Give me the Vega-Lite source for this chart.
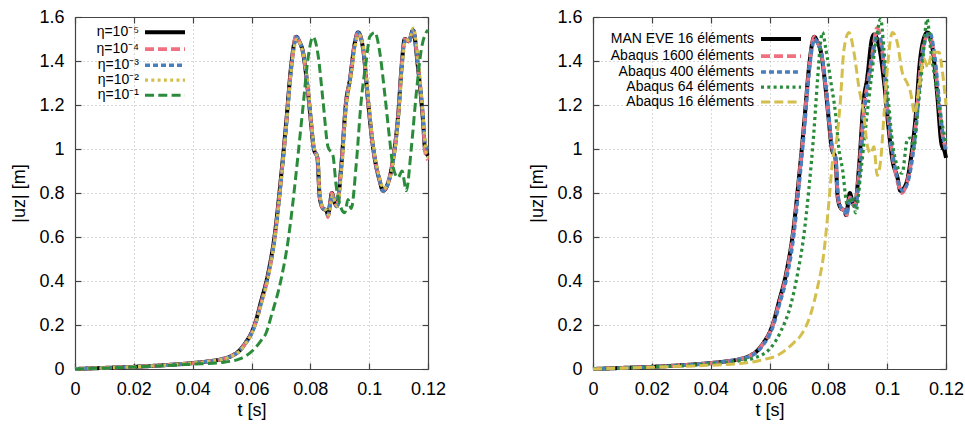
{
  "$schema": "https://vega.github.io/schema/vega-lite/v6.json",
  "padding": {"left": 10, "top": 8, "right": 5, "bottom": 5},
  "background": "white",
  "spacing": 82,
  "config": {
    "view": {"stroke": null},
    "font": "Liberation Sans",
    "axis": {
      "labelFont": "Liberation Sans", "labelFontSize": 18, "labelColor": "#000",
      "titleFont": "Liberation Sans", "titleFontSize": 18, "titleFontWeight": "normal", "titleColor": "#000",
      "domainColor": "#444", "domainWidth": 1.2, "tickColor": "#444", "tickWidth": 1.2, "tickSize": -6,
      "labelFlush": false, "labelOverlap": false, "labelPadding": 17,
      "gridColor": "#b4b4b4", "gridDash": [1, 3], "gridWidth": 1
    },
    "legend": {
      "title": null, "orient": "none", "padding": 0, "rowPadding": 1,
      "labelFont": "Liberation Sans", "labelFontSize": 14, "labelColor": "#000",
      "labelAlign": "right", "labelLimit": 0, "symbolSize": 100, "symbolType": "M-4,0H4"
    }
  },
  "datasets": {
    "L": [
      {"s":"η=10⁻⁵","t":0,"u":0},{"s":"η=10⁻⁵","t":0.01,"u":0.005},{"s":"η=10⁻⁵","t":0.02,"u":0.01},{"s":"η=10⁻⁵","t":0.03,"u":0.017},{"s":"η=10⁻⁵","t":0.04,"u":0.027},{"s":"η=10⁻⁵","t":0.045,"u":0.034},{"s":"η=10⁻⁵","t":0.05,"u":0.045},{"s":"η=10⁻⁵","t":0.053,"u":0.058},{"s":"η=10⁻⁵","t":0.056,"u":0.085},{"s":"η=10⁻⁵","t":0.058,"u":0.12},{"s":"η=10⁻⁵","t":0.06,"u":0.165},{"s":"η=10⁻⁵","t":0.0615,"u":0.22},{"s":"η=10⁻⁵","t":0.0633,"u":0.31},{"s":"η=10⁻⁵","t":0.0656,"u":0.43},{"s":"η=10⁻⁵","t":0.0679,"u":0.61},{"s":"η=10⁻⁵","t":0.0701,"u":0.88},{"s":"η=10⁻⁵","t":0.0718,"u":1.12},{"s":"η=10⁻⁵","t":0.0735,"u":1.38},{"s":"η=10⁻⁵","t":0.0745,"u":1.48},{"s":"η=10⁻⁵","t":0.0752,"u":1.51},{"s":"η=10⁻⁵","t":0.0762,"u":1.49},{"s":"η=10⁻⁵","t":0.0775,"u":1.44},{"s":"η=10⁻⁵","t":0.0792,"u":1.26},{"s":"η=10⁻⁵","t":0.0803,"u":1.11},{"s":"η=10⁻⁵","t":0.0812,"u":1.0},{"s":"η=10⁻⁵","t":0.0824,"u":0.96},{"s":"η=10⁻⁵","t":0.0832,"u":0.78},{"s":"η=10⁻⁵","t":0.0843,"u":0.73},{"s":"η=10⁻⁵","t":0.0855,"u":0.72},{"s":"η=10⁻⁵","t":0.086,"u":0.7},{"s":"η=10⁻⁵","t":0.0868,"u":0.76},{"s":"η=10⁻⁵","t":0.0873,"u":0.8},{"s":"η=10⁻⁵","t":0.0882,"u":0.76},{"s":"η=10⁻⁵","t":0.089,"u":0.74},{"s":"η=10⁻⁵","t":0.0905,"u":0.92},{"s":"η=10⁻⁵","t":0.0922,"u":1.22},{"s":"η=10⁻⁵","t":0.0934,"u":1.31},{"s":"η=10⁻⁵","t":0.0951,"u":1.48},{"s":"η=10⁻⁵","t":0.0962,"u":1.53},{"s":"η=10⁻⁵","t":0.098,"u":1.45},{"s":"η=10⁻⁵","t":0.0996,"u":1.22},{"s":"η=10⁻⁵","t":0.1013,"u":1.01},{"s":"η=10⁻⁵","t":0.1024,"u":0.92},{"s":"η=10⁻⁵","t":0.1035,"u":0.86},{"s":"η=10⁻⁵","t":0.1047,"u":0.81},{"s":"η=10⁻⁵","t":0.1064,"u":0.845},{"s":"η=10⁻⁵","t":0.1081,"u":0.95},{"s":"η=10⁻⁵","t":0.1099,"u":1.16},{"s":"η=10⁻⁵","t":0.111,"u":1.37},{"s":"η=10⁻⁵","t":0.1121,"u":1.5},{"s":"η=10⁻⁵","t":0.1135,"u":1.49},{"s":"η=10⁻⁵","t":0.1149,"u":1.54},{"s":"η=10⁻⁵","t":0.1166,"u":1.37},{"s":"η=10⁻⁵","t":0.1183,"u":1.13},{"s":"η=10⁻⁵","t":0.119,"u":1.0},{"s":"η=10⁻⁵","t":0.12,"u":0.97},

      {"s":"η=10⁻⁴","t":0,"u":0},{"s":"η=10⁻⁴","t":0.01,"u":0.005},{"s":"η=10⁻⁴","t":0.02,"u":0.01},{"s":"η=10⁻⁴","t":0.03,"u":0.017},{"s":"η=10⁻⁴","t":0.04,"u":0.027},{"s":"η=10⁻⁴","t":0.045,"u":0.034},{"s":"η=10⁻⁴","t":0.05,"u":0.045},{"s":"η=10⁻⁴","t":0.053,"u":0.058},{"s":"η=10⁻⁴","t":0.056,"u":0.084},{"s":"η=10⁻⁴","t":0.058,"u":0.118},{"s":"η=10⁻⁴","t":0.06,"u":0.162},{"s":"η=10⁻⁴","t":0.0615,"u":0.215},{"s":"η=10⁻⁴","t":0.0633,"u":0.3},{"s":"η=10⁻⁴","t":0.0656,"u":0.42},{"s":"η=10⁻⁴","t":0.0679,"u":0.6},{"s":"η=10⁻⁴","t":0.0701,"u":0.87},{"s":"η=10⁻⁴","t":0.0718,"u":1.11},{"s":"η=10⁻⁴","t":0.0735,"u":1.37},{"s":"η=10⁻⁴","t":0.0745,"u":1.48},{"s":"η=10⁻⁴","t":0.0752,"u":1.52},{"s":"η=10⁻⁴","t":0.0762,"u":1.49},{"s":"η=10⁻⁴","t":0.0775,"u":1.44},{"s":"η=10⁻⁴","t":0.0792,"u":1.26},{"s":"η=10⁻⁴","t":0.0803,"u":1.11},{"s":"η=10⁻⁴","t":0.0812,"u":1.0},{"s":"η=10⁻⁴","t":0.0824,"u":0.96},{"s":"η=10⁻⁴","t":0.0832,"u":0.78},{"s":"η=10⁻⁴","t":0.0843,"u":0.73},{"s":"η=10⁻⁴","t":0.0855,"u":0.72},{"s":"η=10⁻⁴","t":0.086,"u":0.69},{"s":"η=10⁻⁴","t":0.0868,"u":0.76},{"s":"η=10⁻⁴","t":0.0873,"u":0.8},{"s":"η=10⁻⁴","t":0.0882,"u":0.76},{"s":"η=10⁻⁴","t":0.089,"u":0.74},{"s":"η=10⁻⁴","t":0.0905,"u":0.92},{"s":"η=10⁻⁴","t":0.0922,"u":1.22},{"s":"η=10⁻⁴","t":0.0934,"u":1.31},{"s":"η=10⁻⁴","t":0.0951,"u":1.48},{"s":"η=10⁻⁴","t":0.0962,"u":1.53},{"s":"η=10⁻⁴","t":0.098,"u":1.45},{"s":"η=10⁻⁴","t":0.0996,"u":1.22},{"s":"η=10⁻⁴","t":0.1013,"u":1.01},{"s":"η=10⁻⁴","t":0.1024,"u":0.92},{"s":"η=10⁻⁴","t":0.1035,"u":0.86},{"s":"η=10⁻⁴","t":0.1047,"u":0.81},{"s":"η=10⁻⁴","t":0.1064,"u":0.845},{"s":"η=10⁻⁴","t":0.1081,"u":0.95},{"s":"η=10⁻⁴","t":0.1099,"u":1.16},{"s":"η=10⁻⁴","t":0.111,"u":1.37},{"s":"η=10⁻⁴","t":0.1121,"u":1.5},{"s":"η=10⁻⁴","t":0.1135,"u":1.49},{"s":"η=10⁻⁴","t":0.1149,"u":1.53},{"s":"η=10⁻⁴","t":0.1166,"u":1.38},{"s":"η=10⁻⁴","t":0.1183,"u":1.14},{"s":"η=10⁻⁴","t":0.119,"u":0.99},{"s":"η=10⁻⁴","t":0.12,"u":0.95},

      {"s":"η=10⁻³","t":0,"u":0},{"s":"η=10⁻³","t":0.01,"u":0.005},{"s":"η=10⁻³","t":0.02,"u":0.01},{"s":"η=10⁻³","t":0.03,"u":0.017},{"s":"η=10⁻³","t":0.04,"u":0.027},{"s":"η=10⁻³","t":0.045,"u":0.034},{"s":"η=10⁻³","t":0.05,"u":0.045},{"s":"η=10⁻³","t":0.053,"u":0.057},{"s":"η=10⁻³","t":0.056,"u":0.083},{"s":"η=10⁻³","t":0.058,"u":0.116},{"s":"η=10⁻³","t":0.06,"u":0.16},{"s":"η=10⁻³","t":0.0615,"u":0.21},{"s":"η=10⁻³","t":0.0633,"u":0.3},{"s":"η=10⁻³","t":0.0656,"u":0.42},{"s":"η=10⁻³","t":0.0679,"u":0.59},{"s":"η=10⁻³","t":0.0701,"u":0.86},{"s":"η=10⁻³","t":0.0718,"u":1.1},{"s":"η=10⁻³","t":0.0735,"u":1.36},{"s":"η=10⁻³","t":0.0745,"u":1.47},{"s":"η=10⁻³","t":0.0752,"u":1.51},{"s":"η=10⁻³","t":0.0762,"u":1.49},{"s":"η=10⁻³","t":0.0775,"u":1.44},{"s":"η=10⁻³","t":0.0792,"u":1.27},{"s":"η=10⁻³","t":0.0803,"u":1.12},{"s":"η=10⁻³","t":0.0812,"u":1.0},{"s":"η=10⁻³","t":0.0824,"u":0.96},{"s":"η=10⁻³","t":0.0832,"u":0.79},{"s":"η=10⁻³","t":0.0843,"u":0.73},{"s":"η=10⁻³","t":0.0855,"u":0.72},{"s":"η=10⁻³","t":0.086,"u":0.7},{"s":"η=10⁻³","t":0.0868,"u":0.76},{"s":"η=10⁻³","t":0.0873,"u":0.79},{"s":"η=10⁻³","t":0.0882,"u":0.76},{"s":"η=10⁻³","t":0.089,"u":0.74},{"s":"η=10⁻³","t":0.0905,"u":0.91},{"s":"η=10⁻³","t":0.0922,"u":1.21},{"s":"η=10⁻³","t":0.0934,"u":1.31},{"s":"η=10⁻³","t":0.0951,"u":1.47},{"s":"η=10⁻³","t":0.0962,"u":1.53},{"s":"η=10⁻³","t":0.098,"u":1.45},{"s":"η=10⁻³","t":0.0996,"u":1.23},{"s":"η=10⁻³","t":0.1013,"u":1.02},{"s":"η=10⁻³","t":0.1024,"u":0.92},{"s":"η=10⁻³","t":0.1035,"u":0.86},{"s":"η=10⁻³","t":0.1047,"u":0.81},{"s":"η=10⁻³","t":0.1064,"u":0.84},{"s":"η=10⁻³","t":0.1081,"u":0.94},{"s":"η=10⁻³","t":0.1099,"u":1.15},{"s":"η=10⁻³","t":0.111,"u":1.36},{"s":"η=10⁻³","t":0.1121,"u":1.49},{"s":"η=10⁻³","t":0.1135,"u":1.49},{"s":"η=10⁻³","t":0.1149,"u":1.54},{"s":"η=10⁻³","t":0.1166,"u":1.38},{"s":"η=10⁻³","t":0.1183,"u":1.15},{"s":"η=10⁻³","t":0.119,"u":1.02},{"s":"η=10⁻³","t":0.12,"u":1.0},

      {"s":"η=10⁻²","t":0,"u":0},{"s":"η=10⁻²","t":0.01,"u":0.005},{"s":"η=10⁻²","t":0.02,"u":0.01},{"s":"η=10⁻²","t":0.03,"u":0.017},{"s":"η=10⁻²","t":0.04,"u":0.027},{"s":"η=10⁻²","t":0.045,"u":0.034},{"s":"η=10⁻²","t":0.05,"u":0.044},{"s":"η=10⁻²","t":0.053,"u":0.057},{"s":"η=10⁻²","t":0.056,"u":0.082},{"s":"η=10⁻²","t":0.058,"u":0.115},{"s":"η=10⁻²","t":0.06,"u":0.158},{"s":"η=10⁻²","t":0.0615,"u":0.21},{"s":"η=10⁻²","t":0.0633,"u":0.29},{"s":"η=10⁻²","t":0.0656,"u":0.41},{"s":"η=10⁻²","t":0.0679,"u":0.59},{"s":"η=10⁻²","t":0.0701,"u":0.86},{"s":"η=10⁻²","t":0.0718,"u":1.1},{"s":"η=10⁻²","t":0.0735,"u":1.36},{"s":"η=10⁻²","t":0.0745,"u":1.46},{"s":"η=10⁻²","t":0.0755,"u":1.5},{"s":"η=10⁻²","t":0.0765,"u":1.48},{"s":"η=10⁻²","t":0.0778,"u":1.42},{"s":"η=10⁻²","t":0.0795,"u":1.25},{"s":"η=10⁻²","t":0.0805,"u":1.1},{"s":"η=10⁻²","t":0.0814,"u":1.0},{"s":"η=10⁻²","t":0.0826,"u":0.95},{"s":"η=10⁻²","t":0.0834,"u":0.78},{"s":"η=10⁻²","t":0.0845,"u":0.73},{"s":"η=10⁻²","t":0.0857,"u":0.72},{"s":"η=10⁻²","t":0.0862,"u":0.7},{"s":"η=10⁻²","t":0.087,"u":0.75},{"s":"η=10⁻²","t":0.0875,"u":0.79},{"s":"η=10⁻²","t":0.0884,"u":0.76},{"s":"η=10⁻²","t":0.0892,"u":0.74},{"s":"η=10⁻²","t":0.0907,"u":0.91},{"s":"η=10⁻²","t":0.0924,"u":1.21},{"s":"η=10⁻²","t":0.0936,"u":1.3},{"s":"η=10⁻²","t":0.0953,"u":1.47},{"s":"η=10⁻²","t":0.0964,"u":1.52},{"s":"η=10⁻²","t":0.0982,"u":1.45},{"s":"η=10⁻²","t":0.0998,"u":1.22},{"s":"η=10⁻²","t":0.1015,"u":1.01},{"s":"η=10⁻²","t":0.1026,"u":0.92},{"s":"η=10⁻²","t":0.1037,"u":0.86},{"s":"η=10⁻²","t":0.1049,"u":0.82},{"s":"η=10⁻²","t":0.1066,"u":0.85},{"s":"η=10⁻²","t":0.1083,"u":0.95},{"s":"η=10⁻²","t":0.1101,"u":1.16},{"s":"η=10⁻²","t":0.1112,"u":1.37},{"s":"η=10⁻²","t":0.1123,"u":1.49},{"s":"η=10⁻²","t":0.1137,"u":1.5},{"s":"η=10⁻²","t":0.115,"u":1.55},{"s":"η=10⁻²","t":0.1168,"u":1.38},{"s":"η=10⁻²","t":0.1185,"u":1.12},{"s":"η=10⁻²","t":0.1192,"u":1.0},{"s":"η=10⁻²","t":0.12,"u":0.96},

      {"s":"η=10⁻¹","t":0,"u":0},{"s":"η=10⁻¹","t":0.02,"u":0.009},{"s":"η=10⁻¹","t":0.04,"u":0.022},{"s":"η=10⁻¹","t":0.05,"u":0.03},{"s":"η=10⁻¹","t":0.056,"u":0.046},{"s":"η=10⁻¹","t":0.0605,"u":0.085},{"s":"η=10⁻¹","t":0.0633,"u":0.13},{"s":"η=10⁻¹","t":0.065,"u":0.165},{"s":"η=10⁻¹","t":0.0667,"u":0.24},{"s":"η=10⁻¹","t":0.0701,"u":0.41},{"s":"η=10⁻¹","t":0.0724,"u":0.58},{"s":"η=10⁻¹","t":0.0741,"u":0.76},{"s":"η=10⁻¹","t":0.0758,"u":0.97},{"s":"η=10⁻¹","t":0.0775,"u":1.19},{"s":"η=10⁻¹","t":0.0792,"u":1.41},{"s":"η=10⁻¹","t":0.0809,"u":1.51},{"s":"η=10⁻¹","t":0.0826,"u":1.43},{"s":"η=10⁻¹","t":0.0843,"u":1.22},{"s":"η=10⁻¹","t":0.086,"u":1.01},{"s":"η=10⁻¹","t":0.0877,"u":0.97},{"s":"η=10⁻¹","t":0.0888,"u":0.83},{"s":"η=10⁻¹","t":0.09,"u":0.75},{"s":"η=10⁻¹","t":0.0917,"u":0.71},{"s":"η=10⁻¹","t":0.0928,"u":0.77},{"s":"η=10⁻¹","t":0.0939,"u":0.73},{"s":"η=10⁻¹","t":0.0956,"u":0.93},{"s":"η=10⁻¹","t":0.0973,"u":1.22},{"s":"η=10⁻¹","t":0.099,"u":1.4},{"s":"η=10⁻¹","t":0.1002,"u":1.51},{"s":"η=10⁻¹","t":0.1019,"u":1.53},{"s":"η=10⁻¹","t":0.1036,"u":1.44},{"s":"η=10⁻¹","t":0.1053,"u":1.25},{"s":"η=10⁻¹","t":0.107,"u":1.04},{"s":"η=10⁻¹","t":0.1081,"u":0.92},{"s":"η=10⁻¹","t":0.1098,"u":0.87},{"s":"η=10⁻¹","t":0.1112,"u":0.9},{"s":"η=10⁻¹","t":0.1126,"u":0.81},{"s":"η=10⁻¹","t":0.1143,"u":1.0},{"s":"η=10⁻¹","t":0.116,"u":1.25},{"s":"η=10⁻¹","t":0.1177,"u":1.45},{"s":"η=10⁻¹","t":0.1194,"u":1.53},{"s":"η=10⁻¹","t":0.12,"u":1.54}
    ],
    "R": [
      {"s":"MAN EVE 16 éléments","t":0,"u":0},{"s":"MAN EVE 16 éléments","t":0.01,"u":0.005},{"s":"MAN EVE 16 éléments","t":0.02,"u":0.01},{"s":"MAN EVE 16 éléments","t":0.03,"u":0.017},{"s":"MAN EVE 16 éléments","t":0.04,"u":0.027},{"s":"MAN EVE 16 éléments","t":0.045,"u":0.034},{"s":"MAN EVE 16 éléments","t":0.05,"u":0.045},{"s":"MAN EVE 16 éléments","t":0.053,"u":0.058},{"s":"MAN EVE 16 éléments","t":0.056,"u":0.085},{"s":"MAN EVE 16 éléments","t":0.058,"u":0.12},{"s":"MAN EVE 16 éléments","t":0.06,"u":0.165},{"s":"MAN EVE 16 éléments","t":0.0615,"u":0.22},{"s":"MAN EVE 16 éléments","t":0.0633,"u":0.31},{"s":"MAN EVE 16 éléments","t":0.0656,"u":0.43},{"s":"MAN EVE 16 éléments","t":0.0679,"u":0.61},{"s":"MAN EVE 16 éléments","t":0.0701,"u":0.88},{"s":"MAN EVE 16 éléments","t":0.0718,"u":1.12},{"s":"MAN EVE 16 éléments","t":0.0735,"u":1.38},{"s":"MAN EVE 16 éléments","t":0.0745,"u":1.48},{"s":"MAN EVE 16 éléments","t":0.0752,"u":1.51},{"s":"MAN EVE 16 éléments","t":0.0762,"u":1.49},{"s":"MAN EVE 16 éléments","t":0.0775,"u":1.44},{"s":"MAN EVE 16 éléments","t":0.0792,"u":1.26},{"s":"MAN EVE 16 éléments","t":0.0803,"u":1.11},{"s":"MAN EVE 16 éléments","t":0.0812,"u":1.0},{"s":"MAN EVE 16 éléments","t":0.0824,"u":0.96},{"s":"MAN EVE 16 éléments","t":0.0832,"u":0.78},{"s":"MAN EVE 16 éléments","t":0.0843,"u":0.73},{"s":"MAN EVE 16 éléments","t":0.0855,"u":0.72},{"s":"MAN EVE 16 éléments","t":0.086,"u":0.7},{"s":"MAN EVE 16 éléments","t":0.0868,"u":0.76},{"s":"MAN EVE 16 éléments","t":0.0873,"u":0.8},{"s":"MAN EVE 16 éléments","t":0.0882,"u":0.76},{"s":"MAN EVE 16 éléments","t":0.089,"u":0.74},{"s":"MAN EVE 16 éléments","t":0.0905,"u":0.93},{"s":"MAN EVE 16 éléments","t":0.092,"u":1.22},{"s":"MAN EVE 16 éléments","t":0.0932,"u":1.32},{"s":"MAN EVE 16 éléments","t":0.0948,"u":1.5},{"s":"MAN EVE 16 éléments","t":0.0955,"u":1.52},{"s":"MAN EVE 16 éléments","t":0.0972,"u":1.47},{"s":"MAN EVE 16 éléments","t":0.0989,"u":1.31},{"s":"MAN EVE 16 éléments","t":0.1006,"u":1.08},{"s":"MAN EVE 16 éléments","t":0.1018,"u":0.95},{"s":"MAN EVE 16 éléments","t":0.1035,"u":0.87},{"s":"MAN EVE 16 éléments","t":0.1045,"u":0.81},{"s":"MAN EVE 16 éléments","t":0.1064,"u":0.84},{"s":"MAN EVE 16 éléments","t":0.1081,"u":0.96},{"s":"MAN EVE 16 éléments","t":0.1099,"u":1.18},{"s":"MAN EVE 16 éléments","t":0.111,"u":1.38},{"s":"MAN EVE 16 éléments","t":0.1122,"u":1.49},{"s":"MAN EVE 16 éléments","t":0.1137,"u":1.53},{"s":"MAN EVE 16 éléments","t":0.1155,"u":1.45},{"s":"MAN EVE 16 éléments","t":0.117,"u":1.25},{"s":"MAN EVE 16 éléments","t":0.1185,"u":1.02},{"s":"MAN EVE 16 éléments","t":0.1195,"u":0.99},{"s":"MAN EVE 16 éléments","t":0.12,"u":0.96},

      {"s":"Abaqus 1600 éléments","t":0,"u":0},{"s":"Abaqus 1600 éléments","t":0.01,"u":0.005},{"s":"Abaqus 1600 éléments","t":0.02,"u":0.01},{"s":"Abaqus 1600 éléments","t":0.03,"u":0.017},{"s":"Abaqus 1600 éléments","t":0.04,"u":0.027},{"s":"Abaqus 1600 éléments","t":0.045,"u":0.034},{"s":"Abaqus 1600 éléments","t":0.05,"u":0.045},{"s":"Abaqus 1600 éléments","t":0.053,"u":0.058},{"s":"Abaqus 1600 éléments","t":0.056,"u":0.084},{"s":"Abaqus 1600 éléments","t":0.058,"u":0.118},{"s":"Abaqus 1600 éléments","t":0.06,"u":0.162},{"s":"Abaqus 1600 éléments","t":0.0615,"u":0.215},{"s":"Abaqus 1600 éléments","t":0.0633,"u":0.3},{"s":"Abaqus 1600 éléments","t":0.0656,"u":0.42},{"s":"Abaqus 1600 éléments","t":0.0679,"u":0.6},{"s":"Abaqus 1600 éléments","t":0.0701,"u":0.87},{"s":"Abaqus 1600 éléments","t":0.0718,"u":1.11},{"s":"Abaqus 1600 éléments","t":0.0735,"u":1.37},{"s":"Abaqus 1600 éléments","t":0.0745,"u":1.48},{"s":"Abaqus 1600 éléments","t":0.0752,"u":1.51},{"s":"Abaqus 1600 éléments","t":0.0762,"u":1.49},{"s":"Abaqus 1600 éléments","t":0.0775,"u":1.44},{"s":"Abaqus 1600 éléments","t":0.0792,"u":1.27},{"s":"Abaqus 1600 éléments","t":0.0803,"u":1.12},{"s":"Abaqus 1600 éléments","t":0.0812,"u":1.01},{"s":"Abaqus 1600 éléments","t":0.0824,"u":0.96},{"s":"Abaqus 1600 éléments","t":0.0832,"u":0.79},{"s":"Abaqus 1600 éléments","t":0.0843,"u":0.73},{"s":"Abaqus 1600 éléments","t":0.0855,"u":0.72},{"s":"Abaqus 1600 éléments","t":0.086,"u":0.69},{"s":"Abaqus 1600 éléments","t":0.0868,"u":0.75},{"s":"Abaqus 1600 éléments","t":0.0873,"u":0.78},{"s":"Abaqus 1600 éléments","t":0.0882,"u":0.75},{"s":"Abaqus 1600 éléments","t":0.089,"u":0.74},{"s":"Abaqus 1600 éléments","t":0.0905,"u":0.91},{"s":"Abaqus 1600 éléments","t":0.0922,"u":1.2},{"s":"Abaqus 1600 éléments","t":0.0934,"u":1.3},{"s":"Abaqus 1600 éléments","t":0.0952,"u":1.45},{"s":"Abaqus 1600 éléments","t":0.0965,"u":1.55},{"s":"Abaqus 1600 éléments","t":0.0982,"u":1.46},{"s":"Abaqus 1600 éléments","t":0.0998,"u":1.22},{"s":"Abaqus 1600 éléments","t":0.1015,"u":1.0},{"s":"Abaqus 1600 éléments","t":0.1027,"u":0.9},{"s":"Abaqus 1600 éléments","t":0.1038,"u":0.84},{"s":"Abaqus 1600 éléments","t":0.105,"u":0.8},{"s":"Abaqus 1600 éléments","t":0.1066,"u":0.84},{"s":"Abaqus 1600 éléments","t":0.1083,"u":0.95},{"s":"Abaqus 1600 éléments","t":0.11,"u":1.15},{"s":"Abaqus 1600 éléments","t":0.1112,"u":1.35},{"s":"Abaqus 1600 éléments","t":0.1125,"u":1.48},{"s":"Abaqus 1600 éléments","t":0.1142,"u":1.52},{"s":"Abaqus 1600 éléments","t":0.116,"u":1.42},{"s":"Abaqus 1600 éléments","t":0.1175,"u":1.22},{"s":"Abaqus 1600 éléments","t":0.119,"u":1.05},{"s":"Abaqus 1600 éléments","t":0.12,"u":1.0},

      {"s":"Abaqus 400 éléments","t":0,"u":0},{"s":"Abaqus 400 éléments","t":0.01,"u":0.005},{"s":"Abaqus 400 éléments","t":0.02,"u":0.01},{"s":"Abaqus 400 éléments","t":0.03,"u":0.017},{"s":"Abaqus 400 éléments","t":0.04,"u":0.027},{"s":"Abaqus 400 éléments","t":0.045,"u":0.034},{"s":"Abaqus 400 éléments","t":0.05,"u":0.044},{"s":"Abaqus 400 éléments","t":0.053,"u":0.056},{"s":"Abaqus 400 éléments","t":0.056,"u":0.08},{"s":"Abaqus 400 éléments","t":0.058,"u":0.112},{"s":"Abaqus 400 éléments","t":0.06,"u":0.155},{"s":"Abaqus 400 éléments","t":0.0615,"u":0.205},{"s":"Abaqus 400 éléments","t":0.0633,"u":0.29},{"s":"Abaqus 400 éléments","t":0.0656,"u":0.4},{"s":"Abaqus 400 éléments","t":0.0679,"u":0.57},{"s":"Abaqus 400 éléments","t":0.0701,"u":0.84},{"s":"Abaqus 400 éléments","t":0.0718,"u":1.08},{"s":"Abaqus 400 éléments","t":0.0735,"u":1.35},{"s":"Abaqus 400 éléments","t":0.0745,"u":1.46},{"s":"Abaqus 400 éléments","t":0.0754,"u":1.5},{"s":"Abaqus 400 éléments","t":0.0764,"u":1.48},{"s":"Abaqus 400 éléments","t":0.0777,"u":1.43},{"s":"Abaqus 400 éléments","t":0.0794,"u":1.26},{"s":"Abaqus 400 éléments","t":0.0805,"u":1.11},{"s":"Abaqus 400 éléments","t":0.0814,"u":1.0},{"s":"Abaqus 400 éléments","t":0.0826,"u":0.95},{"s":"Abaqus 400 éléments","t":0.0834,"u":0.78},{"s":"Abaqus 400 éléments","t":0.0845,"u":0.73},{"s":"Abaqus 400 éléments","t":0.0857,"u":0.72},{"s":"Abaqus 400 éléments","t":0.0862,"u":0.7},{"s":"Abaqus 400 éléments","t":0.087,"u":0.75},{"s":"Abaqus 400 éléments","t":0.0875,"u":0.78},{"s":"Abaqus 400 éléments","t":0.0884,"u":0.75},{"s":"Abaqus 400 éléments","t":0.0892,"u":0.74},{"s":"Abaqus 400 éléments","t":0.0907,"u":0.9},{"s":"Abaqus 400 éléments","t":0.0924,"u":1.19},{"s":"Abaqus 400 éléments","t":0.0936,"u":1.3},{"s":"Abaqus 400 éléments","t":0.0954,"u":1.45},{"s":"Abaqus 400 éléments","t":0.0967,"u":1.53},{"s":"Abaqus 400 éléments","t":0.0984,"u":1.45},{"s":"Abaqus 400 éléments","t":0.1,"u":1.21},{"s":"Abaqus 400 éléments","t":0.1017,"u":1.0},{"s":"Abaqus 400 éléments","t":0.1029,"u":0.9},{"s":"Abaqus 400 éléments","t":0.104,"u":0.84},{"s":"Abaqus 400 éléments","t":0.1052,"u":0.81},{"s":"Abaqus 400 éléments","t":0.1068,"u":0.84},{"s":"Abaqus 400 éléments","t":0.1085,"u":0.95},{"s":"Abaqus 400 éléments","t":0.1102,"u":1.15},{"s":"Abaqus 400 éléments","t":0.1114,"u":1.35},{"s":"Abaqus 400 éléments","t":0.1127,"u":1.48},{"s":"Abaqus 400 éléments","t":0.1144,"u":1.53},{"s":"Abaqus 400 éléments","t":0.1162,"u":1.42},{"s":"Abaqus 400 éléments","t":0.1177,"u":1.22},{"s":"Abaqus 400 éléments","t":0.1192,"u":1.04},{"s":"Abaqus 400 éléments","t":0.12,"u":0.99},

      {"s":"Abaqus 64 éléments","t":0,"u":0},{"s":"Abaqus 64 éléments","t":0.02,"u":0.009},{"s":"Abaqus 64 éléments","t":0.04,"u":0.024},{"s":"Abaqus 64 éléments","t":0.05,"u":0.038},{"s":"Abaqus 64 éléments","t":0.0547,"u":0.05},{"s":"Abaqus 64 éléments","t":0.0604,"u":0.096},{"s":"Abaqus 64 éléments","t":0.0638,"u":0.17},{"s":"Abaqus 64 éléments","t":0.0672,"u":0.29},{"s":"Abaqus 64 éléments","t":0.0695,"u":0.43},{"s":"Abaqus 64 éléments","t":0.0717,"u":0.61},{"s":"Abaqus 64 éléments","t":0.0734,"u":0.82},{"s":"Abaqus 64 éléments","t":0.0751,"u":1.08},{"s":"Abaqus 64 éléments","t":0.0763,"u":1.31},{"s":"Abaqus 64 éléments","t":0.0774,"u":1.49},{"s":"Abaqus 64 éléments","t":0.078,"u":1.53},{"s":"Abaqus 64 éléments","t":0.0791,"u":1.46},{"s":"Abaqus 64 éléments","t":0.0808,"u":1.31},{"s":"Abaqus 64 éléments","t":0.0825,"u":1.155},{"s":"Abaqus 64 éléments","t":0.0836,"u":1.0},{"s":"Abaqus 64 éléments","t":0.0848,"u":0.91},{"s":"Abaqus 64 éléments","t":0.0864,"u":0.75},{"s":"Abaqus 64 éléments","t":0.0881,"u":0.78},{"s":"Abaqus 64 éléments","t":0.0893,"u":0.71},{"s":"Abaqus 64 éléments","t":0.091,"u":0.89},{"s":"Abaqus 64 éléments","t":0.0927,"u":1.1},{"s":"Abaqus 64 éléments","t":0.0944,"u":1.3},{"s":"Abaqus 64 éléments","t":0.0961,"u":1.48},{"s":"Abaqus 64 éléments","t":0.0978,"u":1.59},{"s":"Abaqus 64 éléments","t":0.0989,"u":1.45},{"s":"Abaqus 64 éléments","t":0.1006,"u":1.19},{"s":"Abaqus 64 éléments","t":0.1018,"u":1.03},{"s":"Abaqus 64 éléments","t":0.1035,"u":0.92},{"s":"Abaqus 64 éléments","t":0.1051,"u":0.89},{"s":"Abaqus 64 éléments","t":0.1068,"u":1.04},{"s":"Abaqus 64 éléments","t":0.1079,"u":1.05},{"s":"Abaqus 64 éléments","t":0.1091,"u":1.0},{"s":"Abaqus 64 éléments","t":0.1102,"u":1.15},{"s":"Abaqus 64 éléments","t":0.1119,"u":1.37},{"s":"Abaqus 64 éléments","t":0.1136,"u":1.59},{"s":"Abaqus 64 éléments","t":0.1148,"u":1.45},{"s":"Abaqus 64 éléments","t":0.1165,"u":1.3},{"s":"Abaqus 64 éléments","t":0.1182,"u":1.15},{"s":"Abaqus 64 éléments","t":0.12,"u":1.03},

      {"s":"Abaqus 16 éléments","t":0,"u":0},{"s":"Abaqus 16 éléments","t":0.02,"u":0.008},{"s":"Abaqus 16 éléments","t":0.04,"u":0.017},{"s":"Abaqus 16 éléments","t":0.0457,"u":0.021},{"s":"Abaqus 16 éléments","t":0.05,"u":0.025},{"s":"Abaqus 16 éléments","t":0.057,"u":0.04},{"s":"Abaqus 16 éléments","t":0.0638,"u":0.07},{"s":"Abaqus 16 éléments","t":0.0683,"u":0.12},{"s":"Abaqus 16 éléments","t":0.0705,"u":0.15},{"s":"Abaqus 16 éléments","t":0.074,"u":0.25},{"s":"Abaqus 16 éléments","t":0.0763,"u":0.37},{"s":"Abaqus 16 éléments","t":0.0785,"u":0.53},{"s":"Abaqus 16 éléments","t":0.0802,"u":0.76},{"s":"Abaqus 16 éléments","t":0.0814,"u":0.94},{"s":"Abaqus 16 éléments","t":0.083,"u":1.06},{"s":"Abaqus 16 éléments","t":0.0841,"u":1.22},{"s":"Abaqus 16 éléments","t":0.0853,"u":1.45},{"s":"Abaqus 16 éléments","t":0.087,"u":1.53},{"s":"Abaqus 16 éléments","t":0.0887,"u":1.44},{"s":"Abaqus 16 éléments","t":0.0904,"u":1.28},{"s":"Abaqus 16 éléments","t":0.0921,"u":1.15},{"s":"Abaqus 16 éléments","t":0.0932,"u":1.02},{"s":"Abaqus 16 éléments","t":0.0944,"u":0.98},{"s":"Abaqus 16 éléments","t":0.0955,"u":1.01},{"s":"Abaqus 16 éléments","t":0.0966,"u":0.88},{"s":"Abaqus 16 éléments","t":0.0978,"u":0.95},{"s":"Abaqus 16 éléments","t":0.0989,"u":1.15},{"s":"Abaqus 16 éléments","t":0.1001,"u":1.37},{"s":"Abaqus 16 éléments","t":0.1018,"u":1.53},{"s":"Abaqus 16 éléments","t":0.1035,"u":1.48},{"s":"Abaqus 16 éléments","t":0.1051,"u":1.35},{"s":"Abaqus 16 éléments","t":0.1068,"u":1.3},{"s":"Abaqus 16 éléments","t":0.1079,"u":1.26},{"s":"Abaqus 16 éléments","t":0.1094,"u":1.16},{"s":"Abaqus 16 éléments","t":0.1108,"u":1.28},{"s":"Abaqus 16 éléments","t":0.1125,"u":1.41},{"s":"Abaqus 16 éléments","t":0.1138,"u":1.37},{"s":"Abaqus 16 éléments","t":0.1153,"u":1.44},{"s":"Abaqus 16 éléments","t":0.1176,"u":1.44},{"s":"Abaqus 16 éléments","t":0.1187,"u":1.36},{"s":"Abaqus 16 éléments","t":0.12,"u":1.2}
    ]
  },
  "hconcat": [
    {
      "width": 353, "height": 352,
      "data": {"name": "L"},
      "layer": [
        {
          "mark": {"type": "line", "interpolate": "monotone", "strokeCap": "butt"},
          "encoding": {
            "x": {"field": "t", "type": "quantitative", "scale": {"domain": [0, 0.12], "nice": false, "zero": false},
                  "axis": {"values": [0, 0.02, 0.04, 0.06, 0.08, 0.1, 0.12], "format": ".2~f", "title": "t [s]", "grid": true, "titlePadding": 3}},
            "y": {"field": "u", "type": "quantitative", "scale": {"domain": [0, 1.6], "nice": false},
                  "axis": {"values": [0, 0.2, 0.4, 0.6, 0.8, 1, 1.2, 1.4, 1.6], "format": ".1~f", "title": "|uz|  [m]", "grid": true, "titlePadding": 10}},
            "color": {"field": "s", "type": "nominal",
                      "scale": {"domain": ["η=10⁻⁵", "η=10⁻⁴", "η=10⁻³", "η=10⁻²", "η=10⁻¹"], "range": ["#000000", "#f0707f", "#4a7fbf", "#d4bf4c", "#2a8c3a"]},
                      "legend": {"legendX": 83, "legendY": 8.2, "labelOffset": -33, "symbolType": "M-4,0H4", "symbolSize": 100}},
            "strokeDash": {"field": "s", "type": "nominal",
                      "scale": {"domain": ["η=10⁻⁵", "η=10⁻⁴", "η=10⁻³", "η=10⁻²", "η=10⁻¹"], "range": [[1, 0], [9, 4], [5, 3], [3, 3.3], [9, 4.3]]},
                      "legend": {"legendX": 83, "legendY": 8.2, "labelOffset": -33, "symbolType": "M-4,0H4", "symbolSize": 100}},
            "strokeWidth": {"field": "s", "type": "nominal",
                      "scale": {"domain": ["η=10⁻⁵", "η=10⁻⁴", "η=10⁻³", "η=10⁻²", "η=10⁻¹"], "range": [4, 3, 3, 3, 3]},
                      "legend": {"legendX": 83, "legendY": 8.2, "labelOffset": -33, "symbolType": "M-4,0H4", "symbolSize": 100}}
          }
        },
        {
          "mark": {"type": "line", "opacity": 0},
          "encoding": {
            "x": {"field": "t", "type": "quantitative", "axis": {"orient": "top", "values": [0, 0.02, 0.04, 0.06, 0.08, 0.1, 0.12], "labels": false, "title": null, "grid": false}},
            "y": {"field": "u", "type": "quantitative", "axis": {"orient": "right", "values": [0, 0.2, 0.4, 0.6, 0.8, 1, 1.2, 1.4, 1.6], "labels": false, "title": null, "grid": false}}
          }
        }
      ],
      "resolve": {"axis": {"x": "independent", "y": "independent"}}
    },
    {
      "width": 353, "height": 352,
      "data": {"name": "R"},
      "layer": [
        {
          "mark": {"type": "line", "interpolate": "monotone", "strokeCap": "butt"},
          "encoding": {
            "x": {"field": "t", "type": "quantitative", "scale": {"domain": [0, 0.12], "nice": false, "zero": false},
                  "axis": {"values": [0, 0.02, 0.04, 0.06, 0.08, 0.1, 0.12], "format": ".2~f", "title": "t [s]", "grid": true, "titlePadding": 3}},
            "y": {"field": "u", "type": "quantitative", "scale": {"domain": [0, 1.6], "nice": false},
                  "axis": {"values": [0, 0.2, 0.4, 0.6, 0.8, 1, 1.2, 1.4, 1.6], "format": ".1~f", "title": "|uz|  [m]", "grid": true, "titlePadding": 10}},
            "color": {"field": "s", "type": "nominal",
                      "scale": {"domain": ["MAN EVE 16 éléments", "Abaqus 1600 éléments", "Abaqus 400 éléments", "Abaqus 64 éléments", "Abaqus 16 éléments"], "range": ["#000000", "#f0707f", "#4a7fbf", "#2a8c3a", "#d4bf4c"]},
                      "legend": {"legendX": 181, "legendY": 15, "labelOffset": -34, "symbolType": "M-4,0H4", "symbolSize": 100}},
            "strokeDash": {"field": "s", "type": "nominal",
                      "scale": {"domain": ["MAN EVE 16 éléments", "Abaqus 1600 éléments", "Abaqus 400 éléments", "Abaqus 64 éléments", "Abaqus 16 éléments"], "range": [[1, 0], [9, 4], [5, 3], [3, 3.3], [9, 4.3]]},
                      "legend": {"legendX": 181, "legendY": 15, "labelOffset": -34, "symbolType": "M-4,0H4", "symbolSize": 100}},
            "strokeWidth": {"field": "s", "type": "nominal",
                      "scale": {"domain": ["MAN EVE 16 éléments", "Abaqus 1600 éléments", "Abaqus 400 éléments", "Abaqus 64 éléments", "Abaqus 16 éléments"], "range": [4, 3, 3, 3, 3]},
                      "legend": {"legendX": 181, "legendY": 15, "labelOffset": -34, "symbolType": "M-4,0H4", "symbolSize": 100}}
          }
        },
        {
          "mark": {"type": "line", "opacity": 0},
          "encoding": {
            "x": {"field": "t", "type": "quantitative", "axis": {"orient": "top", "values": [0, 0.02, 0.04, 0.06, 0.08, 0.1, 0.12], "labels": false, "title": null, "grid": false}},
            "y": {"field": "u", "type": "quantitative", "axis": {"orient": "right", "values": [0, 0.2, 0.4, 0.6, 0.8, 1, 1.2, 1.4, 1.6], "labels": false, "title": null, "grid": false}}
          }
        }
      ],
      "resolve": {"axis": {"x": "independent", "y": "independent"}}
    }
  ],
  "resolve": {"scale": {"color": "independent", "strokeDash": "independent", "strokeWidth": "independent"}, "legend": {"color": "independent", "strokeDash": "independent", "strokeWidth": "independent"}}
}
